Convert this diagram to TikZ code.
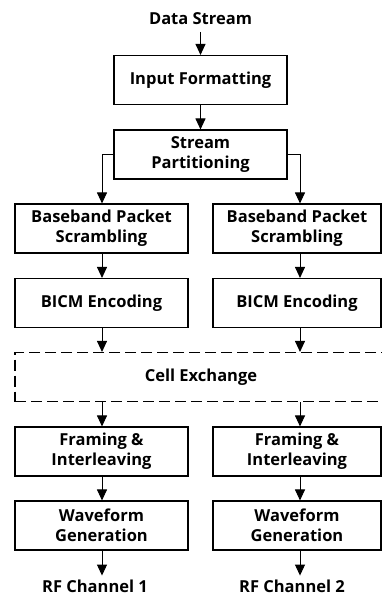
\documentclass[tikz,border=0pt]{standalone}
\usepackage{fontspec}
\setmainfont{Open Sans}
\usetikzlibrary{arrows.meta}
\begin{document}
\begin{tikzpicture}[x=1pt,y=-1pt,
  every node/.style={font=\bfseries\fontsize{16.5}{20}\selectfont, inner sep=0pt},
  blk/.style={draw, line width=1.1pt, align=center, minimum height=49pt},
  arr/.style={line width=1pt, -{Triangle[length=11pt,width=10pt]}}]
\useasboundingbox (0,0) rectangle (382,596);
\node (ds) at (200.5,18.5) {Data Stream};
\node[blk, minimum width=173pt] (inp) at (200.5,80) {Input Formatting};
\node[blk, minimum width=173pt] (sp) at (200.5,154.5) {Stream\\Partitioning};
\coordinate (cl) at (102,0);
\coordinate (cr) at (300,0);
\node[blk, minimum width=173pt] (bb1) at (101.5,228.5) {Baseband Packet\\Scrambling};
\node[blk, minimum width=168pt] (bb2) at (297,228.5) {Baseband Packet\\Scrambling};
\node[blk, minimum width=173pt] (bi1) at (101.5,303) {BICM Encoding};
\node[blk, minimum width=168pt] (bi2) at (297,303) {BICM Encoding};
\node[blk, dash pattern=on 11pt off 5pt, minimum width=372pt] (ce) at (201,377) {Cell Exchange};
\node[blk, minimum width=173pt] (fr1) at (101.5,451.5) {Framing \&\\Interleaving};
\node[blk, minimum width=168pt] (fr2) at (297,451.5) {Framing \&\\Interleaving};
\node[blk, minimum width=173pt] (wf1) at (101.5,525.5) {Waveform\\Generation};
\node[blk, minimum width=168pt] (wf2) at (297,525.5) {Waveform\\Generation};
\node[anchor=base, text depth=0pt] (rf1) at (95,592.5) {RF Channel 1};
\node[anchor=base, text depth=0pt] (rf2) at (292,592.5) {RF Channel 2};
\draw[arr] (ds.south |- 0,32) -- (inp.north);
\draw[arr] (inp) -- (sp);
\draw[arr] (sp.west) -| (bb1.north -| cl);
\draw[arr] (sp.east) -| (bb2.north -| cr);
\draw[arr] (bb1.south -| cl) -- (bi1.north -| cl);
\draw[arr] (bb2.south -| cr) -- (bi2.north -| cr);
\draw[arr] (bi1.south -| cl) -- (ce.north -| cl);
\draw[arr] (bi2.south -| cr) -- (ce.north -| cr);
\draw[arr] (ce.south -| cl) -- (fr1.north -| cl);
\draw[arr] (ce.south -| cr) -- (fr2.north -| cr);
\draw[arr] (fr1.south -| cl) -- (wf1.north -| cl);
\draw[arr] (fr2.south -| cr) -- (wf2.north -| cr);
\draw[arr] (wf1.south -| cl) -- ++(0,25);
\draw[arr] (wf2.south -| cr) -- ++(0,25);
\end{tikzpicture}
\end{document}
